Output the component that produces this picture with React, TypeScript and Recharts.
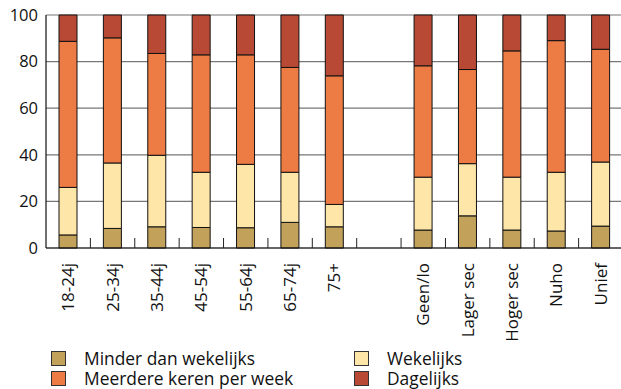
import React from "react";
import { BarChart, Bar, XAxis, YAxis, CartesianGrid, Legend } from "recharts";

const CATEGORIES = ["18-24j", "25-34j", "35-44j", "45-54j", "55-64j", "65-74j", "75+", "", "Geen/lo", "Lager sec", "Hoger sec", "Nuho", "Unief"];
const MINDER = [5.6, 8.4, 9.1, 8.8, 8.7, 11.0, 9.1, null, 7.7, 13.8, 7.7, 7.3, 9.4];
const WEKELIJKS = [20.4, 28.1, 30.7, 23.7, 27.2, 21.5, 9.6, null, 22.7, 22.4, 22.7, 25.2, 27.5];
const MEERDERE = [62.7, 53.7, 43.7, 50.4, 47.0, 45.0, 55.2, null, 47.8, 40.4, 54.2, 56.5, 48.4];
const DAGELIJKS = [11.3, 9.8, 16.5, 17.1, 17.1, 22.5, 26.1, null, 21.8, 23.4, 15.4, 11.0, 14.7];
const Y_TICKS = [0, 20, 40, 60, 80, 100];

const SERIES = [
  { key: "minder", label: "Minder dan wekelijks", color: "#c2a15a" },
  { key: "wekelijks", label: "Wekelijks", color: "#fee6a8" },
  { key: "meerdere", label: "Meerdere keren per week", color: "#ec7b44" },
  { key: "dagelijks", label: "Dagelijks", color: "#b84a35" },
];

const FONT = "'Open Sans', 'Noto Sans', sans-serif";

const data = CATEGORIES.map((name, i) => ({
  name,
  minder: MINDER[i],
  wekelijks: WEKELIJKS[i],
  meerdere: MEERDERE[i],
  dagelijks: DAGELIJKS[i],
}));

// rotated label + small tick between categories
const XTick = (props: any) => {
  const { x, y, payload, index } = props;
  const half = payload?.offset ?? 22.2;
  const axisY = y - 8;
  return (
    <g>
      {index < CATEGORIES.length - 1 && (
        <line x1={x + half} x2={x + half} y1={axisY} y2={axisY - 10} stroke="#222" strokeWidth={1} />
      )}
      <text
        x={x}
        y={axisY + 15}
        dy="0.35em"
        transform={`rotate(-90, ${x}, ${axisY + 15})`}
        textAnchor="end"
        fontSize={17}
        fontFamily={FONT}
        fill="#111"
      >
        {payload.value}
      </text>
    </g>
  );
};

const LegendContent = () => (
  <div style={{ display: "grid", gridTemplateColumns: "303px 260px", gridAutoRows: "19.5px", paddingLeft: 51, fontFamily: FONT, fontSize: 17.4, color: "#111" }}>
    {SERIES.map(s => (
      <div key={s.key} style={{ display: "flex", alignItems: "center", height: 19.5, overflow: "visible" }}>
        <span style={{ width: 13, height: 13, background: s.color, border: "1px solid #333", marginRight: 18, display: "block", flex: "none" }} />
        <span style={{ display: "block", whiteSpace: "nowrap", lineHeight: "19.5px", height: 19.5 }}>{s.label}</span>
      </div>
    ))}
  </div>
);

export default function App() {
  return (
    <div style={{ position: "absolute", left: 0, top: 0, width: 621, height: 389, background: "#fff", overflow: "hidden" }}>
      <BarChart width={621} height={389} data={data} margin={{ top: 15, right: -2, left: 0, bottom: 41 }} barSize={18}>
        <CartesianGrid vertical={false} stroke="#777" strokeWidth={1.2} />
        <XAxis
          dataKey="name"
          interval={0}
          height={100}
          axisLine={{ stroke: "#111", strokeWidth: 1.2 }}
          tickLine={false}
          tick={<XTick />}
        />
        <YAxis
          width={46}
          domain={[0, 100]}
          ticks={Y_TICKS}
          axisLine={{ stroke: "#111", strokeWidth: 1.2 }}
          tickLine={false}
          tick={{ fontSize: 16.5, fontFamily: FONT, fill: "#111" }}
        />
        <Legend
          layout="horizontal"
          verticalAlign="middle"
          align="center"
          wrapperStyle={{ top: 349, left: 0, width: 621 }}
          content={<LegendContent />}
        />
        {SERIES.map(s => (
          <Bar
            key={s.key}
            dataKey={s.key}
            name={s.label}
            stackId="a"
            fill={s.color}
            stroke="#111"
            strokeWidth={1}
            isAnimationActive={false}
          />
        ))}
      </BarChart>
    </div>
  );
}
